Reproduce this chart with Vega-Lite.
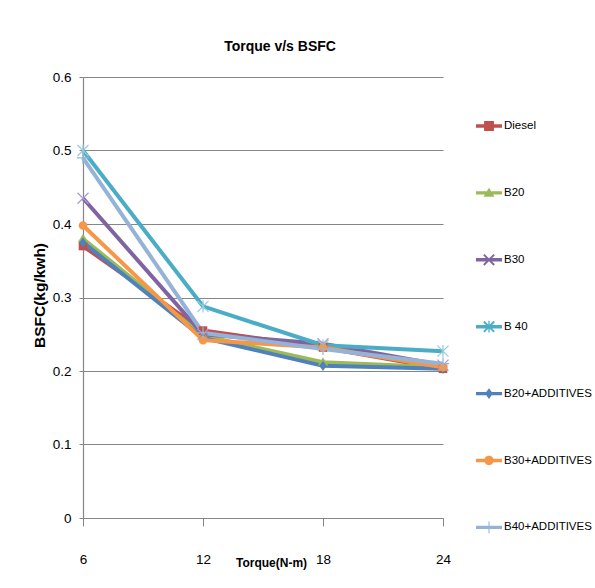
{
  "$schema": "https://vega.github.io/schema/vega-lite/v6.json",
  "autosize": {"type": "none"},
  "width": 360,
  "height": 441,
  "padding": {"left": 83, "top": 77, "right": 152, "bottom": 70},
  "background": "white",
  "config": {
    "view": {"stroke": null},
    "font": "'Liberation Sans', Arial, sans-serif"
  },
  "title": {
    "text": "Torque v/s BSFC",
    "font": "'Liberation Sans', Arial, sans-serif",
    "fontSize": 14,
    "fontWeight": "bold",
    "color": "#000000",
    "frame": "group",
    "anchor": "middle",
    "baseline": "bottom",
    "offset": 2,
    "dx": 17
  },
  "data": {
    "values": [
      {"series": "Diesel", "torque": 6, "bsfc": 0.370},
      {"series": "Diesel", "torque": 12, "bsfc": 0.255},
      {"series": "Diesel", "torque": 18, "bsfc": 0.232},
      {"series": "Diesel", "torque": 24, "bsfc": 0.203},
      {"series": "B20", "torque": 6, "bsfc": 0.380},
      {"series": "B20", "torque": 12, "bsfc": 0.248},
      {"series": "B20", "torque": 18, "bsfc": 0.212},
      {"series": "B20", "torque": 24, "bsfc": 0.205},
      {"series": "B30", "torque": 6, "bsfc": 0.435},
      {"series": "B30", "torque": 12, "bsfc": 0.250},
      {"series": "B30", "torque": 18, "bsfc": 0.237},
      {"series": "B30", "torque": 24, "bsfc": 0.208},
      {"series": "B 40", "torque": 6, "bsfc": 0.500},
      {"series": "B 40", "torque": 12, "bsfc": 0.288},
      {"series": "B 40", "torque": 18, "bsfc": 0.235},
      {"series": "B 40", "torque": 24, "bsfc": 0.227},
      {"series": "B20+ADDITIVES", "torque": 6, "bsfc": 0.375},
      {"series": "B20+ADDITIVES", "torque": 12, "bsfc": 0.245},
      {"series": "B20+ADDITIVES", "torque": 18, "bsfc": 0.207},
      {"series": "B20+ADDITIVES", "torque": 24, "bsfc": 0.203},
      {"series": "B30+ADDITIVES", "torque": 6, "bsfc": 0.398},
      {"series": "B30+ADDITIVES", "torque": 12, "bsfc": 0.242},
      {"series": "B30+ADDITIVES", "torque": 18, "bsfc": 0.232},
      {"series": "B30+ADDITIVES", "torque": 24, "bsfc": 0.205},
      {"series": "B40+ADDITIVES", "torque": 6, "bsfc": 0.490},
      {"series": "B40+ADDITIVES", "torque": 12, "bsfc": 0.252},
      {"series": "B40+ADDITIVES", "torque": 18, "bsfc": 0.230},
      {"series": "B40+ADDITIVES", "torque": 24, "bsfc": 0.210}
    ]
  },
  "encoding": {
    "x": {
      "field": "torque",
      "type": "quantitative",
      "scale": {"domain": [6, 24], "nice": false, "zero": false},
      "axis": {
        "values": [6, 12, 18, 24],
        "title": "Torque(N-m)",
        "titleFont": "'Liberation Sans', Arial, sans-serif",
        "titleFontSize": 12,
        "titleFontWeight": "bold",
        "titleColor": "#000000",
        "titleX": 188,
        "titleY": 44,
        "titleBaseline": "middle",
        "titleAlign": "center",
        "grid": false,
        "domainColor": "#868686",
        "domainWidth": 1.2,
        "tickColor": "#868686",
        "tickSize": 8,
        "labelFont": "'Liberation Sans', Arial, sans-serif",
        "labelFontSize": 13.5,
        "labelColor": "#000000",
        "labelPadding": 26,
        "labelFlush": false
      }
    },
    "y": {
      "field": "bsfc",
      "type": "quantitative",
      "scale": {"domain": [0, 0.6], "nice": false},
      "axis": {
        "values": [0, 0.1, 0.2, 0.3, 0.4, 0.5, 0.6],
        "format": "~g",
        "title": "BSFC(kg/kwh)",
        "titleFont": "'Liberation Sans', Arial, sans-serif",
        "titleFontSize": 15.5,
        "titleFontWeight": "bold",
        "titleColor": "#000000",
        "titleAngle": 270,
        "titleX": -44,
        "titleY": 218,
        "titleAlign": "center",
        "titleBaseline": "middle",
        "grid": true,
        "gridColor": "#868686",
        "gridWidth": 1.2,
        "domainColor": "#868686",
        "domainWidth": 1.2,
        "tickColor": "#868686",
        "tickSize": 4,
        "labelFont": "'Liberation Sans', Arial, sans-serif",
        "labelFontSize": 13.5,
        "labelColor": "#000000",
        "labelPadding": 8
      }
    }
  },
  "layer": [
    {
      "mark": {"type": "line", "strokeWidth": 4},
      "encoding": {
        "color": {
          "field": "series",
          "type": "nominal",
          "scale": {
            "domain": ["Diesel", "B20", "B30", "B 40", "B20+ADDITIVES", "B30+ADDITIVES", "B40+ADDITIVES"],
            "range": ["#C0504D", "#9BBB59", "#8064A2", "#4BACC6", "#4F81BD", "#F79646", "#95B3D7"]
          },
          "legend": null
        }
      }
    },
    {
      "mark": {"type": "point", "filled": true, "opacity": 1, "size": 150, "strokeWidth": 0},
      "encoding": {
        "fill": {
          "field": "series",
          "type": "nominal",
          "scale": {
            "domain": ["Diesel", "B20", "B30", "B 40", "B20+ADDITIVES", "B30+ADDITIVES", "B40+ADDITIVES"],
            "range": ["#C0504D", "#9BBB59", "#A99BD0", "#93CDDD", "#4F81BD", "#F79646", "#95B3D7"]
          },
          "legend": null
        },
        "shape": {
          "field": "series",
          "type": "nominal",
          "scale": {
            "domain": ["Diesel", "B20", "B30", "B 40", "B20+ADDITIVES", "B30+ADDITIVES", "B40+ADDITIVES"],
            "range": [
              "M-0.7,-0.7L0.7,-0.7L0.7,0.7L-0.7,0.7Z",
              "M0,-0.8L0.85,0.6L-0.85,0.6Z",
              "M-0.83,-0.97L0.97,0.83L0.83,0.97L-0.97,-0.83Z M0.83,-0.97L0.97,-0.83L-0.83,0.97L-0.97,0.83Z",
              "M-0.83,-0.97L0.97,0.83L0.83,0.97L-0.97,-0.83Z M0.83,-0.97L0.97,-0.83L-0.83,0.97L-0.97,0.83Z M0.1,-1L0.1,1L-0.1,1L-0.1,-1Z",
              "M0,-0.85L0.6,0L0,0.85L-0.6,0Z",
              "M-0.7,0A0.7,0.7 0 1,1 0.7,0A0.7,0.7 0 1,1 -0.7,0Z",
              "M-1,-0.1L1,-0.1L1,0.1L-1,0.1Z M0.1,-1L0.1,1L-0.1,1L-0.1,-1Z"
            ]
          },
          "legend": null
        }
      }
    },
    {
      "transform": [{"filter": "datum.bsfc < 0"}],
      "mark": {"type": "point", "filled": true, "opacity": 1, "size": 676, "strokeWidth": 0},
      "encoding": {
        "fill": {
          "field": "series",
          "type": "nominal",
          "scale": {
            "domain": ["Diesel", "B20", "B30", "B 40", "B20+ADDITIVES", "B30+ADDITIVES", "B40+ADDITIVES"],
            "range": ["#C0504D", "#9BBB59", "#8064A2", "#4BACC6", "#4F81BD", "#F79646", "#95B3D7"]
          },
          "legend": {
            "title": null,
            "orient": "none",
            "legendX": 393,
            "legendY": 36,
            "padding": 0,
            "rowPadding": 47.9,
            "symbolSize": 676,
            "symbolOpacity": 1,
            "symbolStrokeWidth": 0,
            "labelFont": "'Liberation Sans', Arial, sans-serif",
            "labelFontSize": 11.5,
            "labelColor": "#000000",
            "labelOffset": 2,
            "labelLimit": 200
          }
        },
        "shape": {
          "field": "series",
          "type": "nominal",
          "scale": {
            "domain": ["Diesel", "B20", "B30", "B 40", "B20+ADDITIVES", "B30+ADDITIVES", "B40+ADDITIVES"],
            "range": [
              "M-1,-0.13L1,-0.13L1,0.13L-1,0.13Z M-0.38,-0.38L0.38,-0.38L0.38,0.38L-0.38,0.38Z",
              "M-1,-0.13L1,-0.13L1,0.13L-1,0.13Z M0,-0.4L0.42,0.3L-0.42,0.3Z",
              "M-1,-0.13L1,-0.13L1,0.13L-1,0.13Z M-0.35,-0.45L0.45,0.35L0.35,0.45L-0.45,-0.35Z M0.35,-0.45L0.45,-0.35L-0.35,0.45L-0.45,0.35Z",
              "M-1,-0.13L1,-0.13L1,0.13L-1,0.13Z M-0.35,-0.45L0.45,0.35L0.35,0.45L-0.45,-0.35Z M0.35,-0.45L0.45,-0.35L-0.35,0.45L-0.45,0.35Z M0.05,-0.45L0.05,0.45L-0.05,0.45L-0.05,-0.45Z",
              "M-1,-0.13L1,-0.13L1,0.13L-1,0.13Z M0,-0.42L0.3,0L0,0.42L-0.3,0Z",
              "M-1,-0.13L1,-0.13L1,0.13L-1,0.13Z M-0.36,0A0.36,0.36 0 1,1 0.36,0A0.36,0.36 0 1,1 -0.36,0Z",
              "M-1,-0.13L1,-0.13L1,0.13L-1,0.13Z M0.04,-0.45L0.04,0.45L-0.04,0.45L-0.04,-0.45Z"
            ]
          },
          "legend": {
            "title": null,
            "orient": "none",
            "legendX": 393,
            "legendY": 36,
            "padding": 0,
            "rowPadding": 47.9,
            "symbolSize": 676,
            "symbolOpacity": 1,
            "symbolStrokeWidth": 0,
            "labelFont": "'Liberation Sans', Arial, sans-serif",
            "labelFontSize": 11.5,
            "labelColor": "#000000",
            "labelOffset": 2,
            "labelLimit": 200
          }
        }
      }
    }
  ],
  "resolve": {"scale": {"shape": "independent", "fill": "independent"}}
}
